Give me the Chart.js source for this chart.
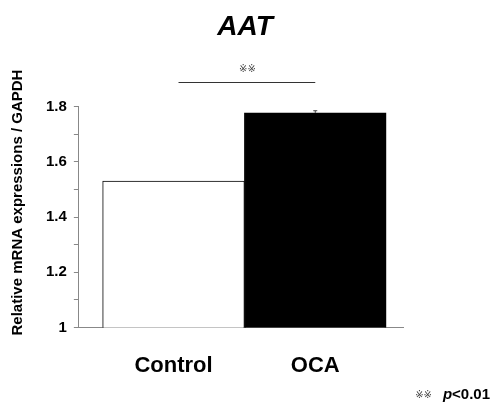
<!DOCTYPE html>
<html lang="en">
<head>
    <meta charset="UTF-8">
    <title>AAT</title>
    <style>
        body { margin: 0; background: #fff; }
    </style>
</head>
<body>
    <canvas id="barChart" width="495" height="412"></canvas>

    <script src="https://cdn.jsdelivr.net/npm/chart.js"></script>
    <script>
        // data
        const categories = ['Control', 'OCA'];
        const values = [1.53, 1.777];
        const errors = [0, 0.008];
        const barColors = ['#ffffff', '#000000'];
        const sigLevel = 1.888;     // height of the ** bracket
        const sigMark = '\u203B\u203B';
        const FONT = '"Liberation Sans", Arial, Helvetica, sans-serif';

        // error bars, significance bracket and footnote
        const extras = {
            id: 'extras',
            afterDatasetsDraw(chart) {
                const ctx = chart.ctx;
                const y = chart.scales.y;
                const bars = chart.getDatasetMeta(0).data;

                ctx.save();
                ctx.strokeStyle = '#444';
                ctx.lineWidth = 1;
                bars.forEach((bar, i) => {
                    if (!errors[i]) return;
                    const top = y.getPixelForValue(values[i] + errors[i]);
                    ctx.beginPath();
                    ctx.moveTo(bar.x, y.getPixelForValue(values[i]));
                    ctx.lineTo(bar.x, top);
                    ctx.moveTo(bar.x - 2, top);
                    ctx.lineTo(bar.x + 2, top);
                    ctx.stroke();
                });

                // bracket
                const ly = Math.round(y.getPixelForValue(sigLevel)) + 0.5;
                ctx.strokeStyle = '#333';
                ctx.beginPath();
                ctx.moveTo(bars[0].x + 5, ly);
                ctx.lineTo(bars[1].x, ly);
                ctx.stroke();
                ctx.fillStyle = '#444';
                ctx.font = '10px "DejaVu Sans", sans-serif';
                ctx.textAlign = 'center';
                ctx.textBaseline = 'middle';
                ctx.fillText(sigMark, (bars[0].x + bars[1].x) / 2 + 3, ly - 13);

                // footnote
                const fy = chart.height - 17;
                ctx.textAlign = 'left';
                ctx.fillStyle = '#000';
                ctx.font = 'bold 15px ' + FONT;
                const tail = '<0.01';
                const tw = ctx.measureText(tail).width;
                const tx = chart.width - 5 - tw;
                ctx.fillText(tail, tx, fy);
                ctx.font = 'bold italic 15px ' + FONT;
                const pw = ctx.measureText('p').width;
                ctx.fillText('p', tx - pw, fy);
                ctx.fillStyle = '#444';
                ctx.font = '10px "DejaVu Sans", sans-serif';
                const sw = ctx.measureText(sigMark).width;
                ctx.fillText(sigMark, tx - pw - 11 - sw, fy);
                ctx.restore();
            }
        };

        const ctxBar = document.getElementById('barChart').getContext('2d');
        const barChart = new Chart(ctxBar, {
            type: 'bar',
            data: {
                datasets: [{
                    data: values.map((v, i) => ({ x: i + 1, y: v })),
                    backgroundColor: barColors,
                    borderColor: '#000',
                    borderWidth: 1,
                    barPercentage: 1,
                    categoryPercentage: 1
                }]
            },
            options: {
                responsive: false,
                animation: false,
                layout: {
                    padding: { left: 0, right: 5, top: 0, bottom: 8 }
                },
                plugins: {
                    legend: { display: false },
                    tooltip: { enabled: false },
                    title: {
                        display: true,
                        text: 'AAT',
                        color: '#000',
                        font: { family: FONT, size: 28, weight: 'bold', style: 'italic' },
                        padding: { top: 10, bottom: 63 }
                    }
                },
                scales: {
                    x: {
                        type: 'linear',
                        offset: false,
                        min: 0.332,
                        max: 2.619,
                        afterBuildTicks: axis => {
                            axis.ticks = categories.map((c, i) => ({ value: i + 1 }));
                        },
                        ticks: {
                            callback: v => categories[v - 1] || '',
                            color: '#000',
                            font: { family: FONT, size: 22, weight: 'bold' },
                            padding: 25,
                            autoSkip: false,
                            maxRotation: 0
                        },
                        grid: { display: false, drawTicks: false, offset: false },
                        border: { display: true, color: '#888', width: 1 }
                    },
                    y: {
                        min: 1,
                        max: 1.8,
                        ticks: {
                            stepSize: 0.1,
                            autoSkip: false,
                            callback: v => Math.round(v * 10) % 2 === 0 ? String(Math.round(v * 10) / 10) : '',
                            color: '#000',
                            font: { family: FONT, size: 15, weight: 'bold' },
                            padding: 7
                        },
                        grid: {
                            drawOnChartArea: false,
                            drawTicks: true,
                            tickLength: 5,
                            color: '#888'
                        },
                        border: { display: true, color: '#888', width: 1 },
                        title: {
                            display: true,
                            // leading spaces push the centred label up a little
                            text: '       Relative mRNA expressions / GAPDH',
                            color: '#000',
                            font: { family: FONT, size: 15, weight: 'bold' },
                            padding: { top: 9, bottom: 12 }
                        }
                    },
                    // empty right-hand axis, only reserves the white margin
                    yRight: {
                        position: 'right',
                        display: true,
                        ticks: { display: false },
                        grid: { display: false },
                        border: { display: false },
                        afterFit: scale => { scale.width = 87; }
                    }
                }
            },
            plugins: [extras]
        });
    </script>
</body>
</html>
